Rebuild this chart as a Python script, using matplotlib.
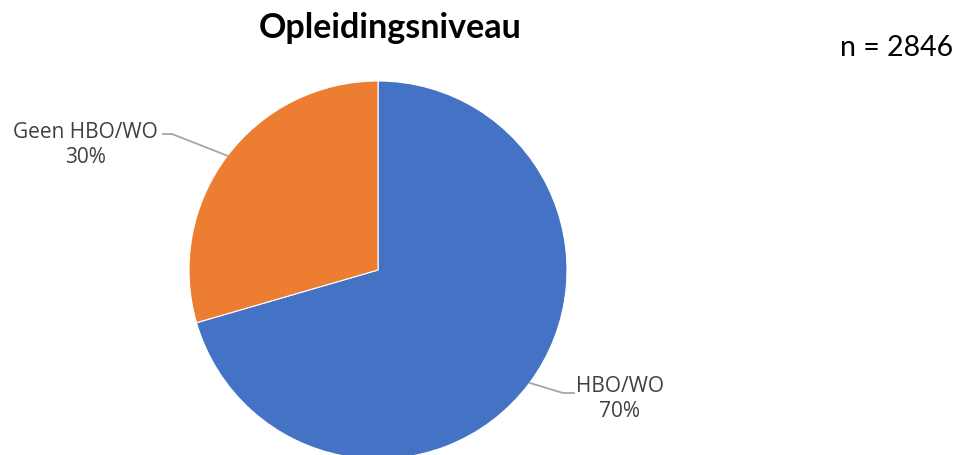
import matplotlib.pyplot as plt

# data
labels = ["HBO/WO", "Geen HBO/WO"]
shares = [70.5, 29.5]
colors = ["#4472C4", "#ED7D31"]
n_total = 2846

W, H = 960, 455
fig = plt.figure(figsize=(W / 100, H / 100), dpi=100)

# pie: centre ~ (378, 270) px, radius ~ 189 px
cx, cy, r = 378, 270, 189
ax = fig.add_axes([(cx - r) / W, (H - cy - r) / H, 2 * r / W, 2 * r / H])
wedges, _ = ax.pie(shares, colors=colors, startangle=90, counterclock=False,
                   radius=1, wedgeprops=dict(edgecolor="white", linewidth=0.8))
ax.set_xlim(-1, 1)
ax.set_ylim(-1, 1)
ax.set_aspect("equal")
ax.axis("off")


def px(x, y):
    # pixel (from top-left) -> data units of the pie
    return (x - cx) / r, (cy - y) / r


txt = dict(color="#404040", fontsize=15, family="Open Sans", ha="center", va="center",
           linespacing=1.25)
line = dict(color="#A6A6A6", lw=1.3, clip_on=False)

# Geen HBO/WO label with leader line
x0, y0 = px(163, 134)
x1, y1 = px(172, 134)
x2, y2 = px(228, 156)
ax.plot([x0, x1, x2], [y0, y1, y2], **line)
tx, ty = px(85, 145)
ax.text(tx, ty, f"{labels[1]}\n{round(shares[1]):.0f}%", **txt)

# HBO/WO label with leader line
x0, y0 = px(530, 383)
x1, y1 = px(563, 393)
x2, y2 = px(574, 393)
ax.plot([x0, x1, x2], [y0, y1, y2], **line)
tx, ty = px(620, 399)
ax.text(tx, ty, f"{labels[0]}\n{round(shares[0]):.0f}%", **txt)

fig.text(390 / W, 1 - 28 / H, "Opleidingsniveau", ha="center", va="center",
         fontsize=24.5, fontweight="bold", family="Lato")
fig.text(897 / W, 1 - 48 / H, f"n = {n_total}", ha="center", va="center",
         fontsize=20.5, family="Lato")

fig.savefig("out.png", dpi=100)
